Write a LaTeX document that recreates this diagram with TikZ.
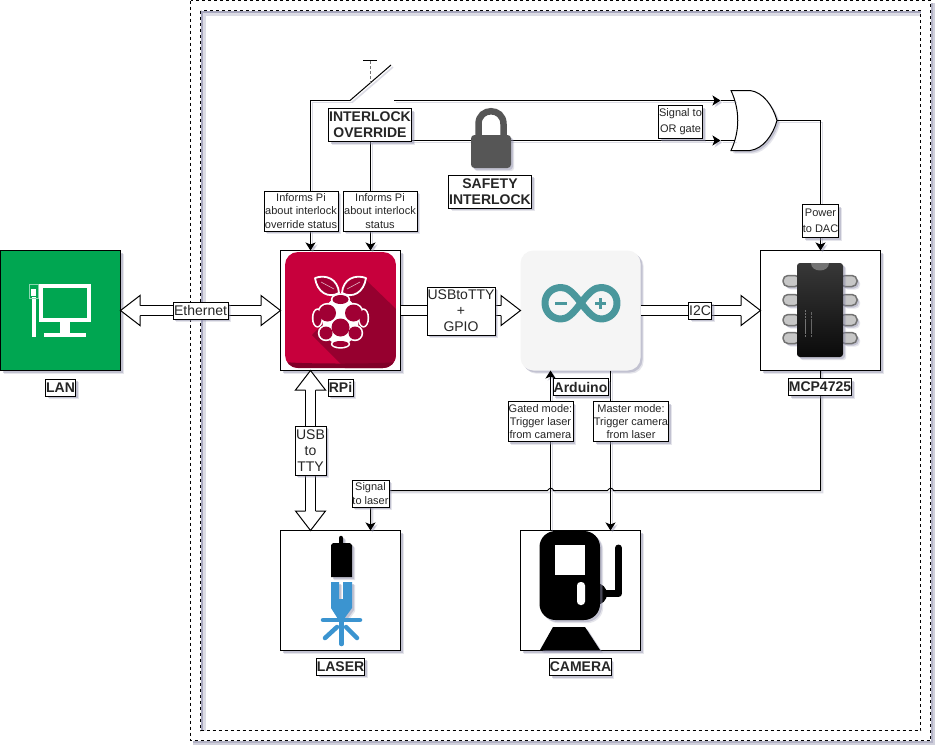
\documentclass[tikz,border=0pt]{standalone}
\usepackage{fontspec}
\setmainfont{Liberation Sans}
\usetikzlibrary{arrows.meta,shadows,calc}
\definecolor{shc}{HTML}{8A8AA8}
\definecolor{lanG}{HTML}{00A651}
\definecolor{rpiR}{HTML}{C7003C}
\definecolor{rpiD}{HTML}{96002F}
\definecolor{rpiB}{HTML}{A00034}
\definecolor{ardT}{HTML}{4A979C}
\definecolor{ardB}{HTML}{F5F5F5}
\definecolor{lockG}{HTML}{565656}
\definecolor{laserB}{HTML}{3B94D0}
\tikzset{
  softshadow/.style={
    drop shadow={shadow xshift=3.2pt,shadow yshift=-3.2pt,fill=shc,opacity=.22},
    drop shadow={shadow xshift=2pt,shadow yshift=-2pt,fill=shc,opacity=.38}},
  box/.style={draw=black,line width=1pt,fill=white,minimum width=120pt,minimum height=120pt,inner sep=0pt,outer sep=0pt,softshadow},
  labelbase/.style={draw=black,line width=1pt,fill=white,inner sep=0pt,outer sep=0pt,align=center,softshadow,text=black!85},
  smallT/.style={labelbase,font=\fontsize{11}{13.3}\selectfont},
  wideT/.style={labelbase,font=\fontsize{11}{16}\selectfont},
  bigT/.style={labelbase,font=\fontsize{14}{16}\selectfont},
  boldT/.style={labelbase,font=\fontsize{14}{16}\selectfont\bfseries},
  wh/.style 2 args={minimum width=#1pt,minimum height=#2pt},
  wire/.style={line width=1pt,draw=black,
    preaction={draw=shc,opacity=.3,line width=1.6pt,transform canvas={shift={(2pt,-2pt)}}}},
  tipped/.style={wire,-{Stealth[length=8pt,width=10pt,inset=2pt]}},
  blockshaft/.style={draw=black,line width=1pt,double=white,double distance=9pt},
}
% open-based head of a block arrow: tip at #1, pointing along angle #2
\newcommand{\blockhead}[2]{%
  \begin{scope}[shift={(#1)},rotate=#2]
    \fill[white] (0,0) -- (-19.5,-15) -- (-19.5,15) -- cycle;
    \draw[line width=1pt,line join=miter] (-19.5,-5) -- (-19.5,-15) -- (0,0) -- (-19.5,15) -- (-19.5,5);
  \end{scope}}
\begin{document}
\begin{tikzpicture}[x=1pt,y=-1pt]
\useasboundingbox (0,0) rectangle (939,750);
\fill[white] (0,0) rectangle (939,750);
% frame with shadow
\fill[shc!40] (193,3) rectangle (935,745);
\fill[shc!65] (193,3) rectangle (933,743);
\fill[white] (190.5,0.5) rectangle (930.5,740.5);
\fill[shc!75] (200.5,10.5) rectangle (921,731);
\fill[shc!30] (203,13) rectangle (921,731);
\fill[white] (206,16) rectangle (921,731);
\draw[line width=1pt,dash pattern=on 3pt off 3pt] (190.5,0.5) rectangle (930.5,740.5);
\draw[line width=1pt,dash pattern=on 3pt off 3pt] (200.5,10.5) rectangle (920.5,730.5);

% boxes
\node[box,fill=lanG] (lan) at (60.5,310.5) {};
\node[box] (rpi) at (340.5,310.5) {};
\node[box,draw=none,fill=ardB,rounded corners=13pt] (arduino) at (580.5,310.5) {};
\node[box] (mcp) at (820.5,310.5) {};
\node[box] (laser) at (340.5,590.5) {};
\node[box] (camera) at (580.5,590.5) {};

% OR gate
\path[draw=black,line width=1pt,fill=white,softshadow]
  (731,90.5) .. controls (740,110) and (740,131) .. (731,150.5)
  -- (750,150.5) .. controls (763,149) and (773,135) .. (777,120.5)
  .. controls (773,106) and (763,92) .. (750,90.5) -- cycle;
\coordinate (orA) at (734.5,100.5);
\coordinate (orB) at (734.5,140.5);
\coordinate (orOut) at (777,120.5);
\coordinate (tipA) at (720.5,100.5);
\coordinate (tipB) at (720.5,140.5);

% switch
\coordinate (swCornerL) at (310.5,100.5);
\coordinate (swL) at (350,100.5);
\coordinate (swBlade) at (391,65);
\coordinate (swR) at (394,100.5);
\coordinate (rpiN1) at ($(rpi.north)+(-30,0)$);
\coordinate (rpiN2) at ($(rpi.north)+(30,0)$);
\coordinate (lockCorner) at (370.5,140.5);

% wires
\draw[tipped] (swL) -- (swCornerL) -- (rpiN1);
\draw[wire] (swL) -- (swBlade);
\draw[line width=1pt,draw=black!55,dash pattern=on 3pt off 2pt] (370,61) -- (370,83);
\draw[line width=1pt] (363,60.5) -- (377,60.5);
\draw[tipped] (swR) -- (tipA);
\draw[wire] (tipA) -- (orA);
\draw[tipped] (lockCorner) -- (rpiN2);
\draw[tipped] (lockCorner) -- (tipB);
\draw[wire] (tipB) -- (orB);
\coordinate (mcpN) at (mcp.north);
\coordinate (orCorner) at (820.5,120.5);
\draw[tipped] (orOut) -- (orCorner) -- (mcpN);

% signal to laser, with hops
\coordinate (sigCorner) at (820.5,490.5);
\coordinate (sigLeft) at (370.5,490.5);
\coordinate (laserN) at ($(laser.north)+(30,0)$);
\draw[tipped] (mcp.south) -- (sigCorner) -- (613.5,490.5)
  .. controls (612.5,487.5) and (609.5,487.5) .. (607.5,490.5)
  -- (553.5,490.5)
  .. controls (552.5,487.5) and (549.5,487.5) .. (547.5,490.5)
  -- (sigLeft) -- (laserN);

\coordinate (ardS1) at ($(arduino.south)+(-30,0)$);
\coordinate (ardS2) at ($(arduino.south)+(30,0)$);
\coordinate (camN1) at ($(camera.north)+(-30,0)$);
\coordinate (camN2) at ($(camera.north)+(30,0)$);
\draw[tipped] (camN1) -- (ardS1);
\draw[tipped] (ardS2) -- (camN2);

% block arrows
\coordinate (rpiS) at ($(rpi.south)+(-30,0)$);
\coordinate (laserT) at ($(laser.north)+(-30,0)$);
\draw[blockshaft,shorten <=19pt,shorten >=19pt] (lan.east) -- (rpi.west);
\blockhead{lan.east}{180}\blockhead{rpi.west}{0}
\draw[blockshaft,shorten >=19pt] (rpi.east) -- (arduino.west);
\blockhead{arduino.west}{0}
\draw[blockshaft,shorten >=19pt] (arduino.east) -- (mcp.west);
\blockhead{mcp.west}{0}
\draw[blockshaft,shorten <=19pt,shorten >=19pt] (rpiS) -- (laserT);
\blockhead{rpiS}{90}\blockhead{laserT}{270}

% LAN icon
\fill[white] (39,284) rectangle (91,322);
\fill[lanG] (43,288) rectangle (87,318);
\fill[white] (60,322) rectangle (70,333);
\fill[white] (44,333) rectangle (86,337);
\fill[white] (32,297) rectangle (36,337);
\draw[white!55!lanG,line width=1pt] (29.5,284.5) rectangle (38.5,298);
\fill[white] (31,289) rectangle (36,296);

% RPi icon
\begin{scope}
  \clip[rounded corners=13pt] (285,252) rectangle (396,368);
  \fill[rpiR] (285,252) rectangle (396,368);
  \fill[rpiD] (366,280) -- (396,309) -- (396,368) -- (345,368) -- (312,335) -- cycle;
  \fill[rpiD!85!black] (285,362) .. controls (300,364) and (380,364) .. (396,362) -- (396,368) -- (285,368) -- cycle;
\end{scope}
\draw[white,line width=1.8pt,fill=rpiB,line join=round]
  (339,293) .. controls (328,299) and (317,292) .. (315,278) .. controls (326,274) and (338,279) .. (339,293) -- cycle;
\draw[white,line width=1.8pt,fill=rpiB,line join=round]
  (342,293) .. controls (353,299) and (364,292) .. (366,278) .. controls (355,274) and (343,279) .. (342,293) -- cycle;
\draw[white!70!rpiB,line width=.6pt] (321,282) -- (334,289) (360,282) -- (347,289);
\fill[white] (340.5,321) ellipse (18pt and 24pt);
\foreach \cx/\cy/\rx/\ry in {340.5/299.5/8/4.5,327.5/313/8.5/8.5,353.5/313/8.5/8.5,340.5/327.5/9/9,
  317.5/318/4/8,363.5/318/4/8,326/333/6.5/6.5,355/333/6.5/6.5,340.5/344/8/3}
  \fill[white] (\cx,\cy) ellipse ({\rx+1.7 pt} and {\ry+1.7 pt});
\foreach \cx/\cy/\rx/\ry in {340.5/299.5/8/4.5,327.5/313/8.5/8.5,353.5/313/8.5/8.5,340.5/327.5/9/9,
  317.5/318/4/8,363.5/318/4/8,326/333/6.5/6.5,355/333/6.5/6.5,340.5/344/8/3}
  \fill[rpiB] (\cx,\cy) ellipse ({\rx pt} and {\ry pt});

% Arduino icon
\draw[ardT,line width=7pt,line join=round]
  (581,303) .. controls (572,291) and (567,287.5) .. (561,287.5)
  .. controls (552,287.5) and (545,294) .. (545,303)
  .. controls (545,312) and (552,319) .. (561,319)
  .. controls (567,319) and (572,315) .. (581,303)
  .. controls (590,291) and (595,287.5) .. (601,287.5)
  .. controls (610,287.5) and (617,294) .. (617,303)
  .. controls (617,312) and (610,319) .. (601,319)
  .. controls (595,319) and (590,315) .. (581,303) -- cycle;
\fill[ardT] (555,301.5) rectangle (567,305);
\fill[ardT] (595,301.5) rectangle (606,305);
\fill[ardT] (598.7,298) rectangle (602.2,309);

% MCP icon
\foreach \ly in {281,300,320,338}{
  \draw[black!55,fill=black!22,line width=1.5pt,rounded corners=5pt,softshadow] (783,\ly-5.5) rectangle (800,\ly+5.5);
  \draw[black!55,fill=black!22,line width=1.5pt,rounded corners=5pt,softshadow] (840,\ly-5.5) rectangle (857,\ly+5.5);
}
\shade[top color=black!78,bottom color=black!96,rounded corners=3pt,softshadow] (797,263) rectangle (843,357);
\fill[black!55] (811,263) .. controls (811,273) and (829,273) .. (829,263) -- cycle;
\draw[black!55,line width=.9pt,dash pattern=on 2.5pt off .6pt] (805,337) -- (805,310);
\draw[black!60,line width=.9pt,dash pattern=on 2.5pt off .6pt] (811,337) -- (811,312);

% Laser icon
\path[fill=black,softshadow] (339,543) -- (339,538) .. controls (339,535) and (343,535) .. (343,538) -- (343,543)
  -- (350,543) -- (352,545) -- (352,577) -- (331,577) -- (331,545) -- (333,543) -- cycle;
\path[fill=laserB,softshadow] (331,582) -- (339,582) -- (339,599) -- (343,599) -- (343,582) -- (352,582)
  -- (352,608) -- (344,619) -- (338,619) -- (331,608) -- cycle;
\draw[laserB,line width=4.5pt,line cap=round] (323,620) -- (360,620);
\draw[laserB,line width=4.5pt,line cap=round] (325,638) -- (337,627);
\draw[laserB,line width=4.5pt,line cap=round] (357,638) -- (346,627);
\draw[laserB,line width=4.5pt,line cap=round] (341.5,622) -- (341.5,644);

% Camera icon
\draw[black,line width=7pt,line cap=round,line join=round] (618.5,548) -- (618.5,593.5) -- (600,593.5);
\fill[black] (596,594) circle[radius=11pt];
\fill[black,rounded corners=16pt,softshadow] (539.5,531) rectangle (600,620);
\fill[white] (555,545) rectangle (585,575);
\fill[white,rounded corners=3.5pt] (577,582) rectangle (585,605);
\fill[black,softshadow] (553,627) -- (585,627) -- (600,650) -- (540,650) -- cycle;

% Lock
\draw[lockG,line width=6.5pt] (478.5,137) -- (478.5,124) .. controls (478.5,107) and (503.5,107) .. (503.5,124) -- (503.5,137);
\path[fill=lockG,rounded corners=3.5pt,softshadow] (471,135) rectangle (511,168);

% labels
\node[bigT,wh={55}{17}] (tEth) at (200.5,310.5) {Ethernet};
\node[bigT,wh={68}{48}] (tUsbGpio) at (461,311) {USBtoTTY\\+\\GPIO};
\node[bigT,wh={23}{17}] (tI2c) at (700,310.5) {I2C};
\node[bigT,wh={31}{49}] (tUsbTty) at (310.5,450.5) {USB\\to\\TTY};
\node[boldT,wh={30}{17}] (tLan) at (60.5,387.5) {LAN};
\node[boldT,wh={25}{17}] (tRpi) at (340.5,387.5) {RPi};
\node[boldT,wh={55}{17}] (tArd) at (580.5,387) {Arduino};
\node[boldT,wh={63}{17}] (tMcp) at (820,387) {MCP4725};
\node[boldT,wh={48}{17}] (tLaser) at (340.5,666.5) {LASER};
\node[boldT,wh={61}{17}] (tCam) at (580.5,667) {CAMERA};
\node[boldT,wh={83}{33}] (tOverride) at (370,125) {INTERLOCK\\OVERRIDE};
\node[boldT,wh={83}{33}] (tSafety) at (490,191.5) {SAFETY\\INTERLOCK};
\node[smallT,wh={74}{40}] (tInf1) at (301,211) {Informs Pi\\about interlock\\override status};
\node[smallT,wh={74}{40}] (tInf2) at (380,211) {Informs Pi\\about interlock\\status};
\node[wideT,wh={44}{33}] (tOr) at (680.5,122) {Signal to\\OR gate};
\node[wideT,wh={36}{33}] (tDac) at (820.5,221) {Power\\to DAC};
\node[smallT,wh={37}{27}] (tSig) at (370.5,493.5) {Signal\\to laser};
\node[smallT,wh={65}{40}] (tGate) at (540.5,421.5) {Gated mode:\\Trigger laser\\from camera};
\node[smallT,wh={75}{40}] (tMast) at (631,421.5) {Master mode:\\Trigger camera\\from laser};
\end{tikzpicture}
\end{document}
